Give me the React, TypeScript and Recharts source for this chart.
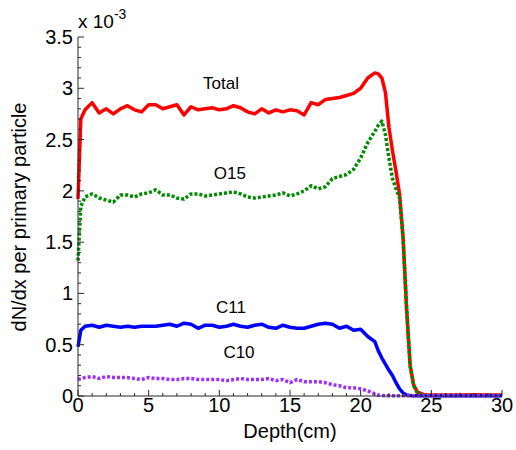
import { LineChart, Line, XAxis, YAxis, ReferenceDot } from 'recharts';

// depth in cm, yields in units of 1e-3 per primary particle
const depth = [
  0, 0.2, 0.5, 1, 1.5, 2, 2.5, 3, 3.5, 4, 4.5, 5, 5.5, 6, 6.5, 7, 7.5, 8, 8.5, 9, 9.5,
  10, 10.5, 11, 11.5, 12, 12.5, 13, 13.5, 14, 14.5, 15, 15.5, 16, 16.5, 17, 17.5, 18,
  18.5, 19, 19.5, 20, 20.5, 21, 21.25, 21.5, 21.75, 22, 22.25, 22.5, 22.75, 23, 23.25,
  23.5, 23.75, 24, 24.5, 25, 26, 27, 28, 29, 30,
];
const total = [
  1.92, 2.7, 2.79, 2.86, 2.76, 2.8, 2.75, 2.8, 2.83, 2.79, 2.77, 2.84, 2.84, 2.8, 2.82, 2.84,
  2.74, 2.82, 2.79, 2.8, 2.81, 2.79, 2.8, 2.83, 2.81, 2.77, 2.75, 2.8, 2.76, 2.79, 2.77, 2.79,
  2.78, 2.74, 2.86, 2.84, 2.89, 2.9, 2.91, 2.93, 2.95, 3.0, 3.1, 3.15, 3.14, 3.1, 2.96, 2.62,
  2.39, 2.19, 1.97, 1.55, 0.85, 0.3, 0.11, 0.04, 0.012, 0.01, 0.01, 0.01, 0.012, 0.01, 0.01,
];
const o15 = [
  1.32, 1.85, 1.94, 1.97, 1.93, 1.91, 1.89, 1.96, 1.96, 1.94, 1.97, 1.98, 2.01, 1.96, 1.96, 1.93,
  1.92, 1.97, 1.97, 1.95, 1.96, 1.97, 1.98, 1.99, 1.97, 1.94, 1.93, 1.94, 1.95, 1.96, 1.98, 1.95,
  1.97, 2.0, 2.05, 2.02, 2.04, 2.12, 2.14, 2.16, 2.21, 2.32, 2.47, 2.58, 2.64, 2.68, 2.55, 2.32,
  2.12, 2.02, 1.93, 1.53, 0.84, 0.29, 0.1, 0.03, 0.006, 0.005, 0.005, 0.005, 0.005, 0.005, 0.005,
];
const c11 = [
  0.48, 0.64, 0.68, 0.69, 0.67, 0.69, 0.68, 0.67, 0.68, 0.67, 0.68, 0.68, 0.68, 0.69, 0.7, 0.68,
  0.71, 0.7, 0.66, 0.69, 0.69, 0.67, 0.68, 0.7, 0.68, 0.67, 0.69, 0.7, 0.67, 0.66, 0.69, 0.67,
  0.66, 0.66, 0.68, 0.7, 0.71, 0.7, 0.66, 0.68, 0.64, 0.65, 0.58, 0.53, 0.44, 0.37, 0.31, 0.25,
  0.2, 0.13, 0.07, 0.03, 0.01, 0.005, 0.003, 0.003, 0.003, 0.003, 0.003, 0.003, 0.003, 0.003, 0.003,
];
const c10 = [
  0.16, 0.17, 0.18, 0.19, 0.17, 0.19, 0.18, 0.18, 0.18, 0.17, 0.16, 0.18, 0.17, 0.17, 0.16, 0.16,
  0.17, 0.17, 0.16, 0.16, 0.16, 0.16, 0.15, 0.16, 0.17, 0.16, 0.16, 0.16, 0.17, 0.15, 0.16, 0.13,
  0.16, 0.14, 0.14, 0.14, 0.13, 0.11, 0.1, 0.08, 0.08, 0.07, 0.05, 0.02, 0.01, 0.005, 0.003, 0.003,
  0.003, 0.003, 0.003, 0.003, 0.003, 0.003, 0.003, 0.003, 0.003, 0.003, 0.003, 0.003, 0.003, 0.003, 0.003,
];

const xLabels = [0, 5, 10, 15, 20, 25, 30];
const yLabels = [0, 0.5, 1, 1.5, 2, 2.5, 3, 3.5];
const xTicks = Array.from({ length: 31 }, (_, i) => i);
const yTicks = Array.from({ length: 36 }, (_, i) => i / 10);

const seriesNames = [
  { name: 'Total', x: 10.12, y: 3.05 },
  { name: 'O15', x: 10.75, y: 2.17 },
  { name: 'C11', x: 10.83, y: 0.87 },
  { name: 'C10', x: 11.39, y: 0.43 },
];

const data = depth.map((d, i) => ({
  depth: d,
  total: total[i],
  o15: o15[i],
  c11: c11[i],
  c10: c10[i],
}));

const FONT = '"Liberation Sans", Arial, sans-serif';
const AXIS = '#262626';

const isLabel = (v: number, list: number[]) => list.some((l) => Math.abs(l - v) < 1e-6);

const BottomTick = (props: any) => {
  const { x, y, payload } = props;
  const major = isLabel(payload.value, xLabels);
  return (
    <g>
      <line x1={x} x2={x} y1={y} y2={y - (major ? 6 : 3)} stroke={AXIS} />
      {major && (
        <text x={x} y={y + 16} textAnchor="middle" fontSize={20} fontFamily={FONT} fill="#000">
          {payload.value}
        </text>
      )}
    </g>
  );
};

const TopTick = (props: any) => {
  const { x, y, payload } = props;
  const major = isLabel(payload.value, xLabels);
  return <line x1={x} x2={x} y1={y} y2={y + (major ? 6 : 3)} stroke={AXIS} />;
};

const LeftTick = (props: any) => {
  const { x, y, payload } = props;
  const major = isLabel(payload.value, yLabels);
  return (
    <g>
      <line x1={x} x2={x + (major ? 6 : 3)} y1={y} y2={y} stroke={AXIS} />
      {major && (
        <text x={x - 5} y={y + 7} textAnchor="end" fontSize={20} fontFamily={FONT} fill="#000">
          {String(Math.round(payload.value * 10) / 10)}
        </text>
      )}
    </g>
  );
};

const RightTick = (props: any) => {
  const { x, y, payload } = props;
  const major = isLabel(payload.value, yLabels);
  return <line x1={x} x2={x - (major ? 6 : 3)} y1={y} y2={y} stroke={AXIS} />;
};

export default function App() {
  return (
    <div style={{ position: 'absolute', left: 0, top: 0, width: 516, height: 450, background: '#fff' }}>
      <LineChart width={516} height={450} data={data} margin={{ top: 37, right: 14, bottom: 0, left: 0 }}>
        <XAxis
          dataKey="depth"
          type="number"
          domain={[0, 30]}
          ticks={xTicks}
          interval={0}
          tickSize={0}
          tickMargin={0}
          tickLine={false}
          tick={<BottomTick />}
          height={54}
          stroke={AXIS}
          label={{ value: 'Depth(cm)', position: 'insideBottom', offset: 12, fontSize: 20, fontFamily: FONT, fill: '#000' }}
        />
        <XAxis
          xAxisId="top"
          orientation="top"
          dataKey="depth"
          type="number"
          domain={[0, 30]}
          ticks={xTicks}
          interval={0}
          tickSize={0}
          tickMargin={0}
          tickLine={false}
          tick={<TopTick />}
          height={0}
          stroke={AXIS}
        />
        <YAxis
          type="number"
          domain={[0, 3.5]}
          ticks={yTicks}
          interval={0}
          tickSize={0}
          tickMargin={0}
          tickLine={false}
          tick={<LeftTick />}
          width={78}
          stroke={AXIS}
        />
        <YAxis
          yAxisId="right"
          orientation="right"
          type="number"
          domain={[0, 3.5]}
          ticks={yTicks}
          interval={0}
          tickSize={0}
          tickMargin={0}
          tickLine={false}
          tick={<RightTick />}
          width={0}
          stroke={AXIS}
        />
        <Line dataKey="total" type="linear" stroke="#ff0000" strokeWidth={3.5} dot={false} isAnimationActive={false} strokeLinejoin="round" />
        <Line dataKey="o15" type="linear" stroke="#008a00" strokeWidth={3.5} strokeDasharray="3 2" dot={false} isAnimationActive={false} strokeLinejoin="round" />
        <Line dataKey="c11" type="linear" stroke="#0000ff" strokeWidth={3.5} dot={false} isAnimationActive={false} strokeLinejoin="round" />
        <Line dataKey="c10" type="linear" stroke="#9b30ff" strokeWidth={3.5} strokeDasharray="3 2" dot={false} isAnimationActive={false} strokeLinejoin="round" />
        {seriesNames.map((s) => (
          <ReferenceDot
            key={s.name}
            x={s.x}
            y={s.y}
            r={0}
            fill="none"
            stroke="none"
            label={{ value: s.name, position: 'center', fontSize: 17, fontFamily: FONT, fill: '#000' }}
          />
        ))}
      </LineChart>
      <svg width={516} height={450} style={{ position: 'absolute', left: 0, top: 0, pointerEvents: 'none' }}>
        <text x={78} y={28} fontSize={19} fontFamily={FONT} fill="#000">
          x 10
          <tspan dy={-9} fontSize={14}>-3</tspan>
        </text>
        <text
          x={26}
          y={217}
          transform="rotate(-90 26 217)"
          textAnchor="middle"
          fontSize={20}
          fontFamily={FONT}
          fill="#000"
        >
          dN/dx per primary particle
        </text>
      </svg>
    </div>
  );
}
